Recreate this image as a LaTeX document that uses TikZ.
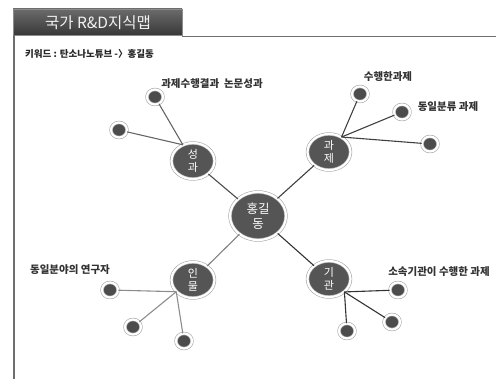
\documentclass[tikz,border=0pt]{standalone}
\usepackage{fontspec}
\newfontfamily\kr{Noto Sans CJK KR}
\usetikzlibrary{shapes.geometric}
\definecolor{nodegray}{HTML}{555555}
\definecolor{smallgray}{HTML}{4C4C4C}
\definecolor{ringgray}{HTML}{A8A8A8}
\definecolor{labelgray}{HTML}{333333}
\definecolor{framegray}{HTML}{6E6E6E}
\tikzset{
  bubble/.style={ellipse, draw=ringgray, double=white, double distance=2.2pt, line width=0.6pt,
    inner sep=0pt, text=white, align=center},
  hub/.style={bubble, fill=nodegray, minimum width=56pt, minimum height=48pt,
    font=\kr\fontsize{12.5}{14.5}\selectfont},
  topic/.style={bubble, fill=nodegray, minimum width=43pt, minimum height=36pt,
    font=\kr\fontsize{11}{13}\selectfont},
  leaf/.style={bubble, fill=smallgray, minimum width=16pt, minimum height=15pt},
  lbl/.style={font=\kr\bfseries\fontsize{10.5}{12}\selectfont, text=labelgray, inner sep=0pt},
  link/.style={line width=1.1pt},
}
\begin{document}
\begin{tikzpicture}[x=1pt,y=-1pt]
\useasboundingbox (0,0) rectangle (496,379);
% frame and title tab
\shade[top color=black!58, bottom color=black!78, draw=black!45, line width=0.4pt]
  (13,9) rectangle (182,35);
\node[font=\kr\fontsize{15.5}{17}\selectfont, text=white!95!black, inner sep=0pt] (title) at (98,22.5) {국가 R\&D지식맵};
\draw[framegray, line width=1.4pt] (182,36.5) -- (496,36.5);
\draw[framegray, line width=1.4pt] (14,35) -- (14,379);
\node[lbl, font=\kr\bfseries\fontsize{9.5}{11}\selectfont, anchor=west, text=black!85] (kw) at (25,54) {키워드 : 탄소나노튜브 -〉홍길동};

% main nodes
\node[hub] (c) at (258,216) {홍길\\동};
\node[topic] (s) at (193,161) {성\\과};
\node[topic] (t) at (329,152) {과\\제};
\node[topic] (p) at (193,280) {인\\물};
\node[topic] (g) at (329,279) {기\\관};

% junctions
\coordinate (js) at (s.122);
\coordinate (jt) at (t.50);
\coordinate (jp) at (p.215);
\coordinate (jg) at (g.-40);

% leaves
\node[leaf] (s1) at (155,97) {};
\node[leaf] (s2) at (119,130) {};
\node[leaf] (t1) at (360,94) {};
\node[leaf] (t2) at (402,112) {};
\node[leaf] (t3) at (430,144) {};
\node[leaf] (p1) at (110,290) {};
\node[leaf] (p2) at (133,327) {};
\node[leaf] (p3) at (184,341) {};
\node[leaf] (g1) at (398,290) {};
\node[leaf] (g2) at (392,322) {};
\node[leaf] (g3) at (347,331) {};

% labels
\node[lbl] (ls) at (212,84) {과제수행결과\ \ 논문성과};
\node[lbl] (lt1) at (388,77) {수행한과제};
\node[lbl] (lt2) at (448,107) {동일분류 과제};
\node[lbl] (lp) at (70,270) {동일분야의 연구자};
\node[lbl] (lg) at (439,272) {소속기관이 수행한 과제};

% connectors
\draw[link, black!70] (c) -- (s);
\draw[link, black!75] (c) -- (t);
\draw[link, black!50] (c) -- (p);
\draw[link, black!80] (c) -- (g);
\draw[link, black!60] (js) -- (s1);
\draw[link, black!60] (js) -- (s2);
\draw[link, black!75] (jt) -- (t1);
\draw[link, black!75] (jt) -- (t2);
\draw[link, black!75] (jt) -- (t3);
\draw[link, black!45] (jp) -- (p1);
\draw[link, black!45] (jp) -- (p2);
\draw[link, black!45] (jp) -- (p3);
\draw[link, black!80] (jg) -- (g1);
\draw[link, black!80] (jg) -- (g2);
\draw[link, black!80] (jg) -- (g3);
\end{tikzpicture}
\end{document}
